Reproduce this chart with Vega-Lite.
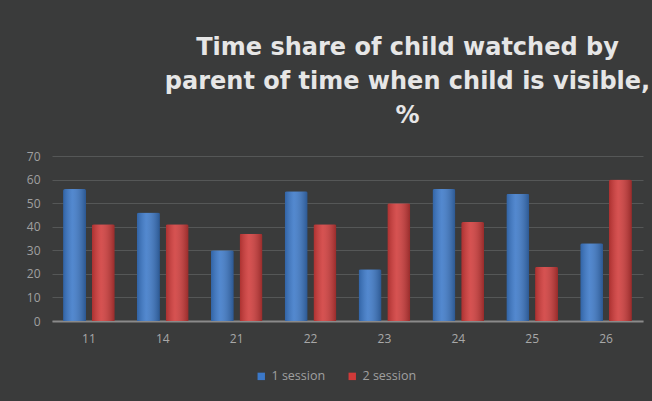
{
  "$schema": "https://vega.github.io/schema/vega-lite/v6.json",
  "autosize": {"type": "none"},
  "width": 591,
  "height": 165,
  "padding": {"left": 52, "top": 156, "right": 9, "bottom": 80},
  "background": "#3a3b3b",
  "title": {
    "text": ["Time share of child watched by", "parent of time when child is visible,", "%"],
    "anchor": "middle",
    "dx": 60,
    "offset": 22,
    "lineHeight": 34,
    "font": "DejaVu Sans",
    "fontSize": 24,
    "fontWeight": "bold",
    "color": "#e6e6e6"
  },
  "data": {
    "values": [
      {"child": "11", "session": "1 session", "value": 56},
      {"child": "11", "session": "2 session", "value": 41},
      {"child": "14", "session": "1 session", "value": 46},
      {"child": "14", "session": "2 session", "value": 41},
      {"child": "21", "session": "1 session", "value": 30},
      {"child": "21", "session": "2 session", "value": 37},
      {"child": "22", "session": "1 session", "value": 55},
      {"child": "22", "session": "2 session", "value": 41},
      {"child": "23", "session": "1 session", "value": 22},
      {"child": "23", "session": "2 session", "value": 50},
      {"child": "24", "session": "1 session", "value": 56},
      {"child": "24", "session": "2 session", "value": 42},
      {"child": "25", "session": "1 session", "value": 54},
      {"child": "25", "session": "2 session", "value": 23},
      {"child": "26", "session": "1 session", "value": 33},
      {"child": "26", "session": "2 session", "value": 60}
    ]
  },
  "encoding": {
    "x": {
      "field": "child",
      "type": "nominal",
      "sort": null,
      "scale": {"paddingInner": 0.3, "paddingOuter": 0.15},
      "axis": {
        "title": null,
        "labelAngle": 0,
        "domainColor": "#8a8a8a",
        "domainWidth": 2,
        "ticks": false,
        "labelPadding": 12,
        "labelColor": "#a8a8a8",
        "labelFont": "Open Sans",
        "labelFontSize": 12
      }
    },
    "xOffset": {
      "field": "session",
      "type": "nominal",
      "scale": {"paddingInner": 0.2, "paddingOuter": 0}
    },
    "y": {
      "field": "value",
      "type": "quantitative",
      "scale": {"domain": [0, 70]},
      "axis": {
        "title": null,
        "values": [0, 10, 20, 30, 40, 50, 60, 70],
        "domain": false,
        "ticks": false,
        "labelPadding": 12,
        "labelColor": "#a0a0a0",
        "labelFont": "Open Sans",
        "labelFontSize": 12,
        "gridColor": "#555757",
        "gridWidth": 1
      }
    }
  },
  "layer": [
    {
      "mark": {"type": "bar", "cornerRadiusTopLeft": 2, "cornerRadiusTopRight": 2},
      "encoding": {
        "color": {
          "field": "session",
          "type": "nominal",
          "scale": {"domain": ["1 session", "2 session"], "range": ["#3b78c8", "#d03a39"]},
          "legend": {
            "title": null,
            "orient": "none",
            "legendX": 203,
            "legendY": 214,
            "direction": "horizontal",
            "symbolType": "square",
            "symbolSize": 55,
            "symbolStrokeWidth": 0,
            "labelColor": "#a0a0a0",
            "labelFont": "Open Sans",
            "labelFontSize": 12.5,
            "columnPadding": 20
          }
        }
      }
    },
    {
      "mark": {
        "type": "bar",
        "cornerRadiusTopLeft": 2,
        "cornerRadiusTopRight": 2,
        "color": {
          "gradient": "linear",
          "x1": 0, "x2": 1, "y1": 0, "y2": 0,
          "stops": [
            {"offset": 0, "color": "rgba(0,0,0,0.18)"},
            {"offset": 0.4, "color": "rgba(255,255,255,0.12)"},
            {"offset": 1, "color": "rgba(0,0,0,0.28)"}
          ]
        }
      }
    }
  ],
  "config": {"view": {"stroke": null}}
}
